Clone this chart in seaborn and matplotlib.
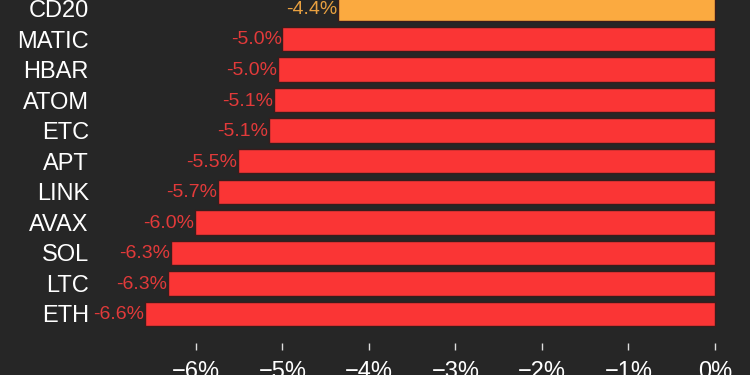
import pandas as pd
import numpy as np
import matplotlib
matplotlib.use("Agg")
import matplotlib.pyplot as plt
import seaborn as sns

# 코인별 등락률 (%)
coins = ["CD20", "MATIC", "HBAR", "ATOM", "ETC", "APT", "LINK", "AVAX", "SOL", "LTC", "ETH"]
changes = [-4.36, -5.0, -5.05, -5.1, -5.16, -5.51, -5.75, -6.01, -6.29, -6.32, -6.59]
value_labels = ["-4.4%", "-5.0%", "-5.0%", "-5.1%", "-5.1%", "-5.5%", "-5.7%", "-6.0%", "-6.3%", "-6.3%", "-6.6%"]
xticks = [-6, -5, -4, -3, -2, -1, 0]
xtick_labels = ["\u22126%", "\u22125%", "\u22124%", "\u22123%", "\u22122%", "\u22121%", "0%"]

bg = "#262626"
red = "#fa3535"
orange = "#fbaa40"

df = pd.DataFrame({"coin": coins, "change": changes})
palette = {c: (orange if c == "CD20" else red) for c in coins}

sns.set_style("dark")
plt.rcParams["font.family"] = ["Liberation Sans", "DejaVu Sans"]

fig = plt.figure(figsize=(7.5, 3.75), dpi=100, facecolor=bg)
ax = fig.add_axes([100 / 750, (375 - 343) / 375, 640 / 750, 343 / 375])
ax.set_facecolor(bg)

sns.barplot(data=df, x="change", y="coin", hue="coin", palette=palette, legend=False,
            orient="h", width=0.8, edgecolor="#3a1c1c", linewidth=1, saturation=1, ax=ax)

ax.set_xlim(-(715 - 100) / 86.5, (740 - 715) / 86.5)
ax.set_ylim(10.95, -0.278)

for i, (v, lab) in enumerate(zip(changes, value_labels)):
    col = "#e8a040" if coins[i] == "CD20" else "#e23a3a"
    ax.text(v - 0.01, i + 0.03, lab, ha="right", va="center", fontsize=14, color=col,
            family=["Liberation Sans Narrow", "Liberation Sans", "DejaVu Sans"])

ax.set_xticks(xticks)
ax.set_xticklabels(xtick_labels)
ax.tick_params(axis="x", colors="#dddddd", labelcolor="white", labelsize=17,
               length=5, width=1, direction="out", pad=8, bottom=True)
ax.tick_params(axis="y", labelcolor="white", labelsize=17, length=0, pad=8)
ax.set_xlabel("")
ax.set_ylabel("")
ax.grid(False)
for s in ax.spines.values():
    s.set_visible(False)

fig.savefig("out.png", dpi=100, facecolor=bg)
